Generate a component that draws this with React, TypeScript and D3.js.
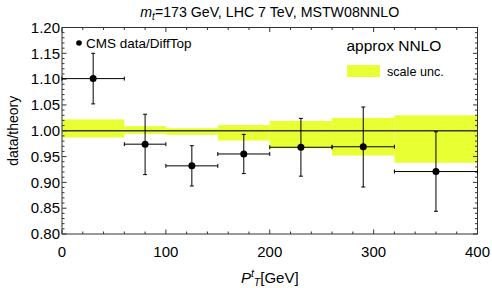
import { useRef, useEffect } from "react";
import * as d3 from "d3";

const binLo = [0, 60, 100, 150, 200, 260, 320];
const binHi = [60, 100, 150, 200, 260, 320, 400];
const pointX = [30, 80, 125, 175, 230, 290, 360];
const ratio = [1.101, 0.974, 0.932, 0.955, 0.968, 0.969, 0.921];
const errUp = [1.15, 1.032, 0.971, 0.993, 1.024, 1.046, 0.998];
const errDown = [1.052, 0.915, 0.893, 0.917, 0.912, 0.891, 0.844];
const bandUp = [1.022, 1.009, 1.005, 1.011, 1.019, 1.025, 1.03];
const bandDown = [0.987, 0.994, 0.992, 0.981, 0.966, 0.952, 0.938];
const xTicks = [0, 100, 200, 300, 400];
const yTicks = [0.8, 0.85, 0.9, 0.95, 1.0, 1.05, 1.1, 1.15, 1.2];

const W = 492;
const H = 288;
const FONT = "Liberation Sans, Arial, sans-serif";
const BAND = "#e8ff33";
const FRAME = "#333";

const App = () => {
  const svgRef = useRef<SVGSVGElement>(null);

  useEffect(() => {
    if (!svgRef.current) return;
    const svg = d3.select(svgRef.current);
    svg.selectAll("*").remove();

    const x = d3.scaleLinear().domain([0, 400]).range([62, 477.5]);
    const y = d3.scaleLinear().domain([0.8, 1.2]).range([234, 27.5]);
    const [x0, x1] = x.range();
    const [yb, yt] = y.range();

    // scale uncertainty band
    svg
      .append("g")
      .selectAll("rect")
      .data(binLo)
      .enter()
      .append("rect")
      .attr("x", (d) => x(d))
      .attr("width", (_, i) => x(binHi[i]) - x(binLo[i]))
      .attr("y", (_, i) => y(bandUp[i]))
      .attr("height", (_, i) => y(bandDown[i]) - y(bandUp[i]))
      .attr("fill", BAND);

    // reference line
    svg
      .append("line")
      .attr("x1", x0)
      .attr("x2", x1)
      .attr("y1", y(1))
      .attr("y2", y(1))
      .attr("stroke", "#3a3a2a")
      .attr("stroke-width", 1.3);

    // frame ticks (inward, all four sides)
    const ticks = svg.append("g").attr("stroke", FRAME).attr("stroke-width", 1);
    d3.range(0, 401, 20).forEach((v) => {
      const len = v % 100 === 0 ? 4.5 : 2.5;
      ticks.append("line").attr("x1", x(v)).attr("x2", x(v)).attr("y1", yb).attr("y2", yb - len);
      ticks.append("line").attr("x1", x(v)).attr("x2", x(v)).attr("y1", yt).attr("y2", yt + len);
    });
    d3.range(0, 41).forEach((k) => {
      const v = 0.8 + k * 0.01;
      const len = k % 5 === 0 ? 4.5 : 2.5;
      ticks.append("line").attr("x1", x0).attr("x2", x0 + len).attr("y1", y(v)).attr("y2", y(v));
      ticks.append("line").attr("x1", x1).attr("x2", x1 - len).attr("y1", y(v)).attr("y2", y(v));
    });

    svg
      .append("rect")
      .attr("x", x0)
      .attr("y", yt)
      .attr("width", x1 - x0)
      .attr("height", yb - yt)
      .attr("fill", "none")
      .attr("stroke", FRAME)
      .attr("stroke-width", 1);

    // tick labels
    svg
      .append("g")
      .selectAll("text")
      .data(xTicks)
      .enter()
      .append("text")
      .attr("x", (d) => x(d))
      .attr("y", 257)
      .attr("text-anchor", "middle")
      .attr("font-family", FONT)
      .attr("font-size", 15)
      .text((d) => d3.format("d")(d));
    svg
      .append("g")
      .selectAll("text")
      .data(yTicks)
      .enter()
      .append("text")
      .attr("x", 60)
      .attr("y", (d) => y(d) + 5.3)
      .attr("text-anchor", "end")
      .attr("font-family", FONT)
      .attr("font-size", 15)
      .text((d) => d3.format(".2f")(d));

    // data points with error bars
    const pts = svg.append("g").attr("stroke", "#000").attr("stroke-width", 1);
    pointX.forEach((px, i) => {
      const cx = x(px);
      const cy = y(ratio[i]);
      pts.append("line").attr("x1", x(binLo[i])).attr("x2", x(binHi[i])).attr("y1", cy).attr("y2", cy);
      pts.append("line").attr("x1", x(binLo[i])).attr("x2", x(binLo[i])).attr("y1", cy - 2).attr("y2", cy + 2);
      pts.append("line").attr("x1", x(binHi[i])).attr("x2", x(binHi[i])).attr("y1", cy - 2).attr("y2", cy + 2);
      pts.append("line").attr("x1", cx).attr("x2", cx).attr("y1", y(errUp[i])).attr("y2", y(errDown[i]));
      pts.append("line").attr("x1", cx - 2).attr("x2", cx + 2).attr("y1", y(errUp[i])).attr("y2", y(errUp[i]));
      pts.append("line").attr("x1", cx - 2).attr("x2", cx + 2).attr("y1", y(errDown[i])).attr("y2", y(errDown[i]));
      pts.append("circle").attr("cx", cx).attr("cy", cy).attr("r", 3.5).attr("fill", "#000").attr("stroke", "none");
    });

    // legends
    svg.append("circle").attr("cx", 79).attr("cy", 43).attr("r", 2.8).attr("fill", "#000");
    svg
      .append("text")
      .attr("x", 86)
      .attr("y", 48)
      .attr("font-family", FONT)
      .attr("font-size", 13.5)
      .text("CMS data/DiffTop");
    svg
      .append("text")
      .attr("x", 346.5)
      .attr("y", 50.5)
      .attr("font-family", FONT)
      .attr("font-size", 15.5)
      .text("approx NNLO");
    svg.append("rect").attr("x", 347).attr("y", 65).attr("width", 33).attr("height", 12).attr("fill", BAND);
    svg
      .append("text")
      .attr("x", 387)
      .attr("y", 75.5)
      .attr("font-family", FONT)
      .attr("font-size", 12.6)
      .text("scale unc.");

    // title
    const title = svg
      .append("text")
      .attr("x", (x0 + x1) / 2)
      .attr("y", 16.5)
      .attr("text-anchor", "middle")
      .attr("font-family", FONT)
      .attr("font-size", 14.2);
    title.append("tspan").attr("font-style", "italic").text("m");
    title.append("tspan").attr("font-style", "italic").attr("font-size", 10).attr("dy", 3).text("t");
    title.append("tspan").attr("dy", -3).text("=173 GeV, LHC 7 TeV, MSTW08NNLO");

    // axis labels
    svg
      .append("text")
      .attr("transform", `translate(18,${(yb + yt) / 2}) rotate(-90)`)
      .attr("text-anchor", "middle")
      .attr("font-family", FONT)
      .attr("font-size", 14)
      .text("data/theory");
    const xl = svg
      .append("text")
      .attr("x", (x0 + x1) / 2)
      .attr("y", 283)
      .attr("text-anchor", "middle")
      .attr("font-family", FONT)
      .attr("font-size", 15);
    xl.append("tspan").attr("font-style", "italic").text("P");
    xl.append("tspan").attr("font-style", "italic").attr("font-size", 10.5).attr("dy", -6).text("t");
    xl.append("tspan").attr("font-style", "italic").attr("font-size", 10.5).attr("dy", 9).text("T");
    xl.append("tspan").attr("dy", -3).text("[GeV]");
  }, []);

  return (
    <svg
      ref={svgRef}
      width={W}
      height={H}
      style={{ position: "absolute", left: 0, top: 0, background: "#fff" }}
    />
  );
};

export default App;
